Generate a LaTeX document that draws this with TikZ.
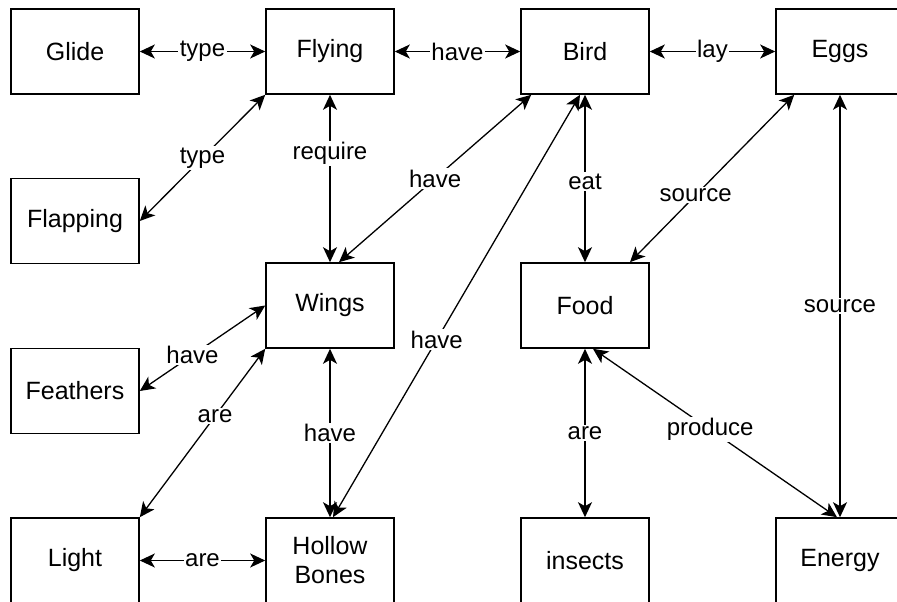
\documentclass[tikz,border=0pt]{standalone}
\usepackage{fontspec}
\setmainfont{Liberation Sans}
\usetikzlibrary{arrows.meta}

\begin{document}
\begin{tikzpicture}
[x=1pt,y=-1pt,%
  conceptBox/.style={shape=rectangle,draw,line width=1.6pt,minimum width=128pt,minimum height=85pt,align=center,font=\fontsize{25}{29}\selectfont},%
  linkLine/.style={{Stealth[length=15pt,width=14pt,inset=4pt]}-{Stealth[length=15pt,width=14pt,inset=4pt]},line width=1.3pt},%
  linkLabel/.style={fill=white,inner sep=1.5pt,font=\fontsize{24}{28}\selectfont}]
\useasboundingbox (0,0) rectangle (897,602);
%% concepts
\foreach \nodename/\x/\y/\txt in {
  glide/75/51.5/Glide, flying/330/51.5/Flying, bird/585/51.5/Bird, eggs/840/51.5/Eggs,
  flapping/75/221/Flapping, wings/330/305.5/Wings, food/585/305.5/Food,
  feathers/75/391/Feathers, light/75/560.5/Light, bones/330/560.5/{Hollow\\Bones},
  insects/585/560.5/insects, energy/840/560.5/Energy}
{
  \node (\nodename) at (\x,\y) [conceptBox] {\txt};
}
%% shifted ends
\coordinate (birdA) at ([xshift=11pt]bird.south west);
\coordinate (birdB) at ([xshift=-5pt]bird.south);
\coordinate (wingsA) at ([xshift=9pt]wings.north);
\coordinate (bonesA) at ([xshift=3pt]bones.north);
\coordinate (eggsA) at ([xshift=19pt]eggs.south west);
\coordinate (foodA) at ([xshift=45pt]food.north);
\coordinate (foodB) at ([xshift=8pt]food.south);
\coordinate (energyA) at ([xshift=-3pt]energy.north);
%% links
\path
\foreach \startnode/\endnode/\lbl/\p in {
  glide.east/flying.west/type/0.5, flying.east/bird.west/have/0.5,
  bird.east/eggs.west/lay/0.5, flying.south west/flapping.east/type/0.5,
  flying.south/wings.north/require/0.35, birdA/wingsA/have/0.5,
  birdB/bonesA/have/0.58, bird.south/food.north/eat/0.52,
  eggsA/foodA/source/0.6, eggs.south/energy.north/source/0.5,
  wings.west/feathers.east/have/0.58, wings.south west/light.north east/are/0.4,
  wings.south/bones.north/have/0.5, light.east/bones.west/are/0.5,
  food.south/insects.north/are/0.5, foodB/energyA/produce/0.48}
{
  (\startnode) edge[linkLine] node[linkLabel,pos=\p] {\lbl} (\endnode)
};
\end{tikzpicture}
\end{document}
